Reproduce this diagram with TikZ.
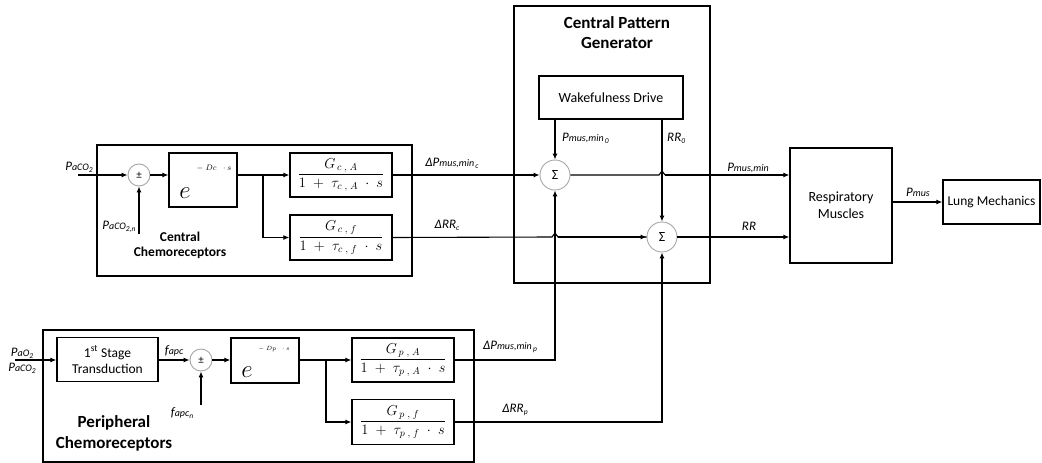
\documentclass[tikz,border=0pt]{standalone}
\usepackage{fontspec}
\setmainfont{Carlito}
\usetikzlibrary{arrows.meta,calc}
\newcommand\sm[1]{{\fontsize{10}{11}\selectfont #1}}
\newcommand\tn[1]{\raisebox{-2.2pt}{\fontsize{7.5}{8}\selectfont #1}}
\begin{document}
\begin{tikzpicture}[x=1pt,y=-1pt,
  blk/.style={draw,line width=1.3pt,rectangle,inner sep=0pt,align=center},
  sumc/.style={draw=black!35,line width=0.9pt,circle,minimum size=#1,inner sep=0pt},
  wire/.style={line width=1.1pt},
  arr/.style={line width=1.1pt,-{Latex[length=6pt,width=5pt]}},
  lbl/.style={inner sep=0pt,font=\fontsize{13}{14}\selectfont\itshape},
  tf/.style={blk,font=\fontsize{14.5}{16}\selectfont}]
\useasboundingbox (0,0) rectangle (1042,463);
% ---------- Central chemoreceptors ----------
\node[blk,minimum width=315pt,minimum height=131pt] (ccbox) at (254.5,210.5) {};
\node[font=\fontsize{13.5}{15}\selectfont\bfseries,align=center] (cctxt) at (180,245) {Central\\Chemoreceptors};
\node[sumc=22pt,font=\fontsize{11}{11}\selectfont] (s0) at (139,175) {±};
\node[blk,minimum width=68pt,minimum height=54pt] (ec) at (203,180) {};
\node[inner sep=0pt,font=\fontsize{38}{38}\selectfont\itshape,anchor=base] (ece) at (185,198) {$e$};
\node[inner sep=0pt,font=\fontsize{8}{8}\selectfont,anchor=base] (ecx) at (214,170) {$-\;Dc\;\;\cdot s$};
\node[tf,minimum width=102pt,minimum height=44pt] (gca) at (341,175) {$\displaystyle\frac{G_{\,c\;,\;A}}{1\;+\;\tau_{c\;,\;A}\;\cdot\;s}$};
\node[tf,minimum width=102pt,minimum height=45pt] (gcf) at (341,237.5) {$\displaystyle\frac{G_{\,c\;,\;f}}{1\;+\;\tau_{c\;,\;f}\;\cdot\;s}$};
\coordinate (pin) at (78,175);
\coordinate (pcn) at (139,234);
\coordinate (b1) at (263,175);
\node[lbl] (lpaco) at (79,167) {P\sm{aCO}\tn{2}};
\node[lbl] (lpacon) at (119,227) {P\sm{aCO}\tn{2,n}};
\draw[arr] (pin) -- (s0.west);
\draw[arr] (pcn) -- (s0.south);
\draw[arr] (s0.east) -- (ec.west |- s0);
\draw[wire] (ec.east |- b1) -- (b1);
\draw[arr] (b1) -- (gca.west);
\draw[arr] (b1) |- (gcf.west);
% ---------- Central pattern generator ----------
\node[blk,minimum width=196pt,minimum height=277pt] (cpg) at (612,144.5) {};
\node[font=\fontsize{17}{20}\selectfont\bfseries,align=center] (cpgt) at (617,33) {Central Pattern\\Generator};
\node[blk,minimum width=144pt,minimum height=43pt,font=\fontsize{14}{16}\selectfont] (wd) at (611,97.5) {Wakefulness Drive};
\node[sumc=30pt,font=\fontsize{14}{14}\selectfont] (s1) at (555,175) {Σ};
\node[sumc=30pt,font=\fontsize{14}{14}\selectfont] (s2) at (662,237) {Σ};
\node[lbl,anchor=west] (lp0) at (562,138) {P\sm{mus,min}\tn{\,0}};
\node[lbl,anchor=west] (lrr0) at (667,138) {RR\tn{0}};
\draw[arr] (wd.south -| s1) -- (s1.north);
\draw[arr] (wd.south -| s2) -- (s2.north);
% ---------- Respiratory muscles & lung ----------
\node[blk,minimum width=102pt,minimum height=115pt,font=\fontsize{14}{17}\selectfont] (rm) at (841,205.5) {Respiratory\\Muscles};
\node[blk,minimum width=97pt,minimum height=44pt,font=\fontsize{13.5}{15}\selectfont] (lm) at (991.5,202) {Lung Mechanics};
\draw[arr] (gca.east) -- (s1.west);
\draw[wire] (gcf.east) -- (552,237) -- (555,233) -- (558,237) -- (s2.west);
\draw[arr] (558,237) -- (s2.west);
\draw[wire] (s1.east) -- (659,175) -- (662,171) -- (665,175);
\draw[arr] (665,175) -- (rm.west |- s1);
\draw[arr] (s2.east) -- (rm.west |- s2);
\draw[arr] (rm.east |- lm) -- (lm.west);
\node[lbl] (ldpc) at (452,163) {ΔP\sm{mus,min}\tn{\,c}};
\node[lbl] (ldrc) at (447,225) {ΔRR\tn{c}};
\node[lbl] (lpm) at (748,168) {P\sm{mus,min}};
\node[lbl] (lrr) at (749,226) {RR};
\node[lbl] (lpmus) at (918,192) {P\sm{mus}};
% ---------- Peripheral chemoreceptors ----------
\node[blk,minimum width=431pt,minimum height=132pt] (pcbox) at (258.5,396) {};
\node[font=\fontsize{17}{21}\selectfont\bfseries,align=center] (pctxt) at (114,433) {Peripheral\\Chemoreceptors};
\node[blk,minimum width=101pt,minimum height=44pt,font=\fontsize{13.5}{16}\selectfont] (tr) at (107.5,359.5) {1\textsuperscript{st} Stage\\Transduction};
\node[sumc=22pt,font=\fontsize{11}{11}\selectfont] (s3) at (201,360) {±};
\node[blk,minimum width=68pt,minimum height=45pt] (ep) at (265,360.5) {};
\node[inner sep=0pt,font=\fontsize{38}{38}\selectfont\itshape,anchor=base] (epe) at (247,377) {$e$};
\node[inner sep=0pt,font=\fontsize{6}{6}\selectfont,anchor=base] (epx) at (274,350) {$-\;Dp\;\;\cdot s$};
\node[tf,minimum width=102pt,minimum height=44pt] (gpa) at (403,360) {$\displaystyle\frac{G_{\,p\;,\;A}}{1\;+\;\tau_{p\;,\;A}\;\cdot\;s}$};
\node[tf,minimum width=102pt,minimum height=45pt] (gpf) at (403,422) {$\displaystyle\frac{G_{\,p\;,\;f}}{1\;+\;\tau_{p\;,\;f}\;\cdot\;s}$};
\coordinate (pin2) at (15,360);
\coordinate (fn) at (201,405);
\coordinate (b2) at (326,360);
\node[lbl] (lpao) at (22,353) {P\sm{aO}\tn{2}};
\node[lbl] (lpaco2) at (22,368) {P\sm{aCO}\tn{2}};
\node[lbl] (lfapc) at (174,351) {f\sm{apc}};
\node[lbl] (lfapcn) at (182,413) {f\sm{apc}\tn{n}};
\draw[arr] (pin2) -- (tr.west |- pin2);
\draw[arr] (tr.east |- s3) -- (s3.west);
\draw[arr] (fn) -- (s3.south);
\draw[arr] (s3.east) -- (ep.west |- s3);
\draw[wire] (ep.east |- b2) -- (b2);
\draw[arr] (b2) -- (gpa.west);
\draw[arr] (b2) |- (gpf.west);
\draw[arr] (gpa.east) -| (s1.south);
\draw[arr] (gpf.east) -| (s2.south);
\node[lbl] (ldpp) at (510,347) {ΔP\sm{mus,min}\tn{\,p}};
\node[lbl] (ldrp) at (515,410) {ΔRR\tn{p}};
\end{tikzpicture}
\end{document}
